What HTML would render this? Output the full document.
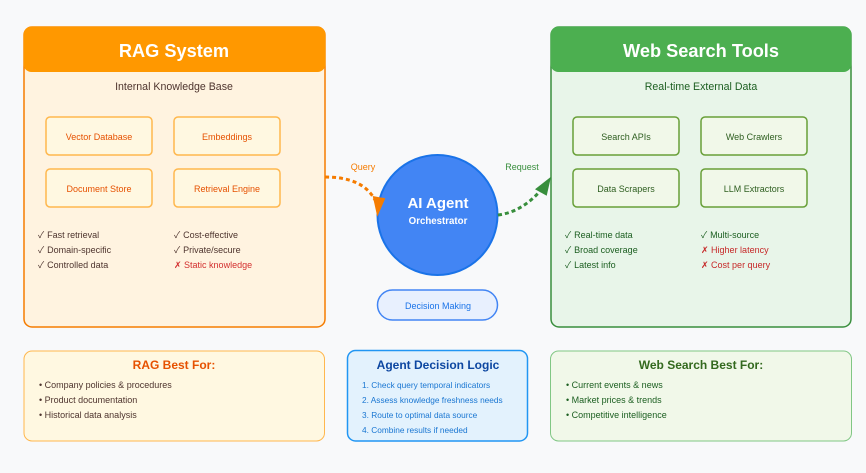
<!DOCTYPE html>
<html><head><meta charset="utf-8"><style>
html,body{margin:0;padding:0;background:#f8f9fa;width:866px;height:473px;overflow:hidden}
svg{display:block;position:absolute;left:0;top:0}
.t{position:absolute;line-height:20px;height:20px;white-space:nowrap;font-family:"Liberation Sans",Arial,sans-serif}
.c{width:300px;text-align:center}
.s18{font-size:18.2px;font-weight:bold;color:#fff}
.s15{font-size:15px;font-weight:bold;color:#fff}
.s12{font-size:12px;font-weight:bold}
.s11{font-size:10.6px}
.s10{font-size:9.7px}
.s9{font-size:9px}
.s8{font-size:8.3px}
.o{color:#4e342e}.g{color:#1b5e20}.r{color:#d32f2f}.e{color:#e65100}.gi{color:#2e5e20}.a{color:#1976d2}
.f1{font-family:"Noto Sans CJK SC",sans-serif;margin-right:.5px}
.f4{font-family:"NanumGothic",sans-serif}
.f5{font-family:"Noto Serif CJK SC",serif}
</style></head><body>
<svg width="866" height="473" viewBox="0 0 866 473" xmlns="http://www.w3.org/2000/svg">
<rect width="866" height="473" fill="#f8f9fa"/>
<rect x="24" y="27" width="301" height="300" rx="8" fill="#fff3e0" stroke="#f57c00" stroke-width="1.500"/>
<rect x="23.500" y="26.500" width="302" height="45.500" rx="8" fill="#ff9800"/>
<g fill="#fff8e1" stroke="#ffb74d" stroke-width="1.500">
<rect x="46" y="117" width="106" height="38" rx="4"/><rect x="174" y="117" width="106" height="38" rx="4"/>
<rect x="46" y="169" width="106" height="38" rx="4"/><rect x="174" y="169" width="106" height="38" rx="4"/>
</g>
<rect x="551" y="27" width="300" height="300" rx="8" fill="#e8f5e9" stroke="#388e3c" stroke-width="1.500"/>
<rect x="550.500" y="26.500" width="301" height="45.500" rx="8" fill="#4caf50"/>
<g fill="#f1f8e9" stroke="#689f38" stroke-width="1.500">
<rect x="573" y="117" width="106" height="38" rx="4"/><rect x="701" y="117" width="106" height="38" rx="4"/>
<rect x="573" y="169" width="106" height="38" rx="4"/><rect x="701" y="169" width="106" height="38" rx="4"/>
</g>
<circle cx="437.500" cy="215" r="60" fill="#4285f4" stroke="#1a73e8" stroke-width="2"/>
<rect x="377.500" y="290" width="120" height="30" rx="15" fill="#e8f0fe" stroke="#4285f4" stroke-width="1.500"/>
<path d="M325 177 Q363 177 375 200" fill="none" stroke="#f57c00" stroke-width="3" stroke-dasharray="4 3"/>
<polygon points="377.300,216.700 372.700,196 385.300,198.300" fill="#f57c00"/>
<path d="M498 215 Q522 212 541 190" fill="none" stroke="#388e3c" stroke-width="3" stroke-dasharray="4 3"/>
<polygon points="551,176.700 535,189.300 546.700,195.700" fill="#388e3c"/>
<rect x="24" y="351" width="300.500" height="90" rx="8" fill="#fff8e1" stroke="#ffb74d" stroke-width="1"/>
<rect x="347.500" y="350.500" width="180" height="90.500" rx="8" fill="#e3f2fd" stroke="#2196f3" stroke-width="1.500"/>
<rect x="550.500" y="351" width="301" height="90" rx="8" fill="#f1f8e9" stroke="#81c784" stroke-width="1"/>
</svg>

<div class="t c s18" style="left:24px;top:41px">RAG System</div>
<div class="t c s11 o" style="left:24px;top:77px">Internal Knowledge Base</div>
<div class="t c s9 e" style="left:-51px;top:127px">Vector Database</div>
<div class="t c s9 e" style="left:77px;top:127px">Embeddings</div>
<div class="t c s9 e" style="left:-51px;top:179px">Document Store</div>
<div class="t c s9 e" style="left:77px;top:179px">Retrieval Engine</div>
<div class="t s9 o" style="left:38px;top:225px"><span class="f1">✓</span> Fast retrieval</div>
<div class="t s9 o" style="left:38px;top:240px"><span class="f1">✓</span> Domain-specific</div>
<div class="t s9 o" style="left:38px;top:255px"><span class="f1">✓</span> Controlled data</div>
<div class="t s9 o" style="left:174px;top:225px"><span class="f1">✓</span> Cost-effective</div>
<div class="t s9 o" style="left:174px;top:240px"><span class="f1">✓</span> Private/secure</div>
<div class="t s9 r" style="left:174px;top:255px"><span class="f5">✗</span> Static knowledge</div>

<div class="t c s18" style="left:551px;top:41px">Web Search Tools</div>
<div class="t c s11 g" style="left:551px;top:77px">Real-time External Data</div>
<div class="t c s9 gi" style="left:476px;top:127px">Search APIs</div>
<div class="t c s9 gi" style="left:604px;top:127px">Web Crawlers</div>
<div class="t c s9 gi" style="left:476px;top:179px">Data Scrapers</div>
<div class="t c s9 gi" style="left:604px;top:179px">LLM Extractors</div>
<div class="t s9 g" style="left:565px;top:225px"><span class="f1">✓</span> Real-time data</div>
<div class="t s9 g" style="left:565px;top:240px"><span class="f1">✓</span> Broad coverage</div>
<div class="t s9 g" style="left:565px;top:255px"><span class="f1">✓</span> Latest info</div>
<div class="t s9 g" style="left:701px;top:225px"><span class="f1">✓</span> Multi-source</div>
<div class="t s9" style="left:701px;top:240px;color:#c62828"><span class="f5">✗</span> Higher latency</div>
<div class="t s9" style="left:701px;top:255px;color:#c62828"><span class="f4">✗</span> Cost per query</div>

<div class="t c s15" style="left:288px;top:194px">AI Agent</div>
<div class="t c s10" style="left:288px;top:212px;color:#fff;font-weight:bold">Orchestrator</div>
<div class="t c s9" style="left:288px;top:296px;color:#1a73e8">Decision Making</div>
<div class="t c s9" style="left:213px;top:157px;color:#f57c00">Query</div>
<div class="t c s9" style="left:372px;top:157px;color:#388e3c">Request</div>

<div class="t c s12 e" style="left:24px;top:355px">RAG Best For:</div>
<div class="t s9 o" style="left:39px;top:375px">• Company policies &amp; procedures</div>
<div class="t s9 o" style="left:39px;top:390px">• Product documentation</div>
<div class="t s9 o" style="left:39px;top:405px">• Historical data analysis</div>

<div class="t c s12" style="left:288px;top:355px;color:#0d47a1">Agent Decision Logic</div>
<div class="t s8 a" style="left:362px;top:375px">1. Check query temporal indicators</div>
<div class="t s8 a" style="left:362px;top:390px">2. Assess knowledge freshness needs</div>
<div class="t s8 a" style="left:362px;top:405px">3. Route to optimal data source</div>
<div class="t s8 a" style="left:362px;top:420px">4. Combine results if needed</div>

<div class="t c s12" style="left:551px;top:355px;color:#33691e">Web Search Best For:</div>
<div class="t s9 g" style="left:566px;top:375px">• Current events &amp; news</div>
<div class="t s9 g" style="left:566px;top:390px">• Market prices &amp; trends</div>
<div class="t s9 g" style="left:566px;top:405px">• Competitive intelligence</div>
</body></html>
